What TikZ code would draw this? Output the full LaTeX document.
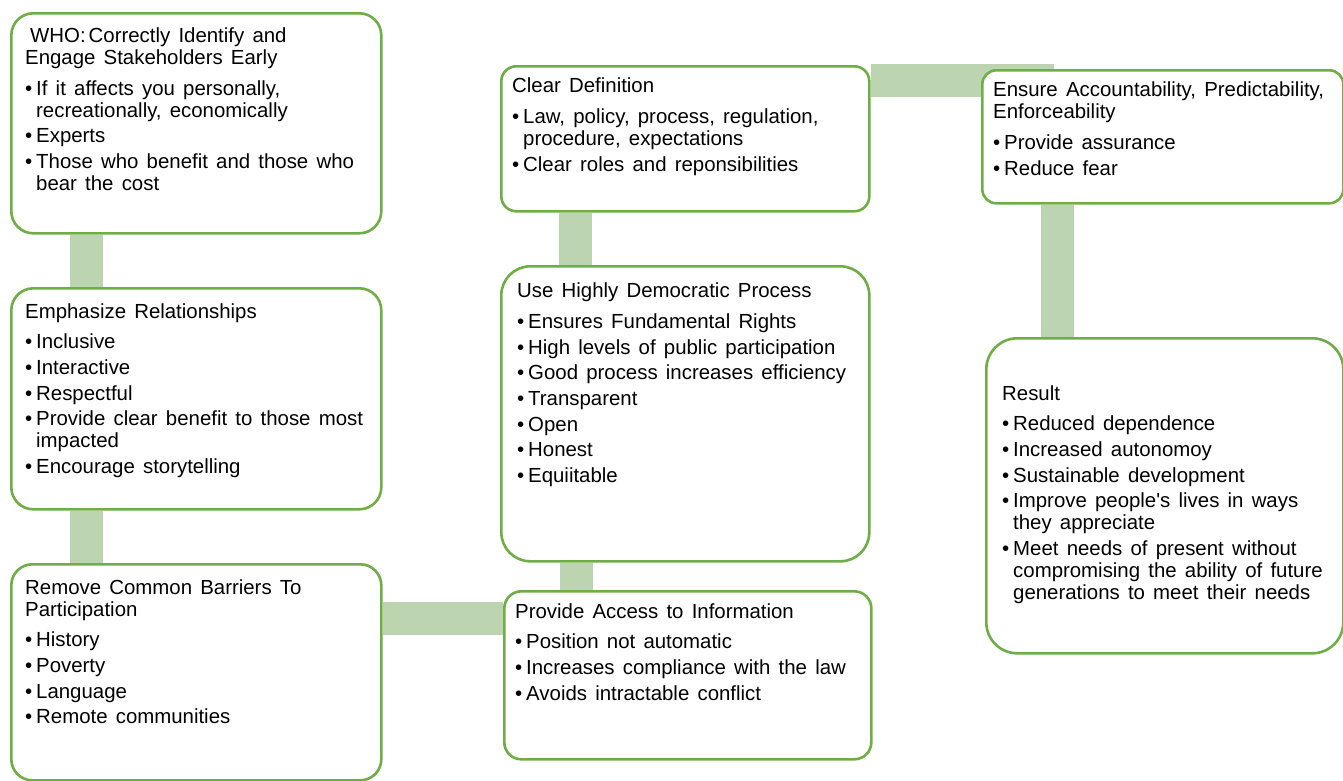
\documentclass[tikz,border=0pt]{standalone}
\usepackage{fontspec}
\setmainfont{Liberation Sans}[WordSpace=1.45, Ligatures=TeXOff]
\pgfdeclarelayer{background}
\pgfsetlayers{background,main}
\definecolor{boxgreen}{HTML}{70AD47}
\definecolor{linkgreen}{HTML}{BCD5B0}
\newcommand{\bul}{\makebox[11pt][l]{\textbullet}}
\newcommand{\cont}{\hspace*{11pt}}
\newcommand{\tsep}{\\[8.7pt]}
\newcommand{\isep}{\\[3.7pt]}
\tikzset{
  stepbox/.style={draw=boxgreen, line width=2.6pt, fill=white, anchor=north west, inner sep=0pt},
  boxtext/.style={anchor=base west, inner sep=0pt, font=\fontsize{20.4}{22}\selectfont},
  link/.style={draw=linkgreen, line width=33pt, line cap=butt, line join=miter},
}
\begin{document}
\begin{tikzpicture}[x=1pt, y=-1pt]
\useasboundingbox (0,0) rectangle (1343,780);

% boxes
\node[stepbox, minimum width=370pt, minimum height=220pt, rounded corners=22pt] (who) at (10,12) {};
\node[stepbox, minimum width=370pt, minimum height=221pt, rounded corners=22pt] (emph) at (10,287) {};
\node[stepbox, minimum width=370pt, minimum height=216pt, rounded corners=21pt] (remove) at (10,563) {};
\node[stepbox, minimum width=367pt, minimum height=168pt, rounded corners=17pt] (access) at (503,590) {};
\node[stepbox, minimum width=368pt, minimum height=295pt, rounded corners=29pt] (demo) at (500,265) {};
\node[stepbox, minimum width=368pt, minimum height=145pt, rounded corners=15pt] (clear) at (500,65) {};
\node[stepbox, minimum width=361pt, minimum height=133pt, rounded corners=14pt] (ensure) at (981,69) {};
\node[stepbox, minimum width=357pt, minimum height=315pt, rounded corners=31pt] (result) at (985,337) {};

% texts
\node[boxtext] (who-t) at (25,42.3) {\parbox[t]{360pt}{\raggedright
\hspace*{5pt}WHO:\hspace{3pt}Correctly Identify and\\
Engage Stakeholders Early\tsep
\bul If it affects you personally,\\
\cont recreationally, economically\isep
\bul Experts\isep
\bul Those who benefit and those who\\
\cont bear the cost}};

\node[boxtext] (emph-t) at (25,318) {\parbox[t]{360pt}{\raggedright
Emphasize Relationships\tsep
\bul Inclusive\isep
\bul Interactive\isep
\bul Respectful\isep
\bul Provide clear benefit to those most\\
\cont impacted\isep
\bul Encourage storytelling}};

\node[boxtext] (remove-t) at (25,594) {\parbox[t]{360pt}{\raggedright
Remove Common Barriers To\\
Participation\tsep
\bul History\isep
\bul Poverty\isep
\bul Language\isep
\bul Remote communities}};

\node[boxtext] (access-t) at (515,618) {\parbox[t]{360pt}{\raggedright
Provide Access to Information\tsep
\bul Position not automatic\isep
\bul Increases compliance with the law\isep
\bul Avoids intractable conflict}};

\node[boxtext] (demo-t) at (517,297.7) {\parbox[t]{360pt}{\raggedright
Use Highly Democratic Process\tsep
\bul Ensures Fundamental Rights\isep
\bul High levels of public participation\isep
\bul Good process increases efficiency\isep
\bul Transparent\isep
\bul Open\isep
\bul Honest\isep
\bul Equiitable}};

\node[boxtext] (clear-t) at (512,92.7) {\parbox[t]{360pt}{\raggedright
Clear Definition\tsep
\bul Law, policy, process, regulation,\\
\cont procedure, expectations\isep
\bul Clear roles and reponsibilities}};

\node[boxtext] (ensure-t) at (993,96.7) {\parbox[t]{360pt}{\raggedright
Ensure Accountability, Predictability,\\
Enforceability\tsep
\bul Provide assurance\isep
\bul Reduce fear}};

\node[boxtext] (result-t) at (1002,400) {\parbox[t]{340pt}{\raggedright
Result\tsep
\bul Reduced dependence\isep
\bul Increased autonomoy\isep
\bul Sustainable development\isep
\bul Improve people's lives in ways\\
\cont they appreciate\isep
\bul Meet needs of present without\\
\cont compromising the ability of future\\
\cont generations to meet their needs}};

% connector anchor points
\coordinate (w1) at ([xshift=76.5pt]who.south west);
\coordinate (e1) at ([xshift=76.5pt]emph.south west);
\coordinate (r1) at ([yshift=-55pt]remove.north east);
\coordinate (d1) at ([xshift=76.5pt]demo.south west);
\coordinate (c1) at ([xshift=75pt]clear.south west);
\coordinate (c2) at ([yshift=-15pt]clear.north east);
\coordinate (k1) at ([xshift=56.5pt]ensure.north west);
\coordinate (n1) at ([xshift=76.5pt]ensure.south west);

% connectors behind the boxes
\begin{pgfonlayer}{background}
\draw[link] (w1) -- (w1 |- emph.north);
\draw[link] (e1) -- (e1 |- remove.north);
\draw[link] (r1) -- (r1 -| access.west);
\draw[link] (d1) -- (d1 |- access.north);
\draw[link] (c1) -- (c1 |- demo.north);
\draw[link] (c2) -- (c2 -| k1) -- ([yshift=-20pt]k1);
\draw[link] (n1) -- (n1 |- result.north);
\end{pgfonlayer}
\end{tikzpicture}
\end{document}
